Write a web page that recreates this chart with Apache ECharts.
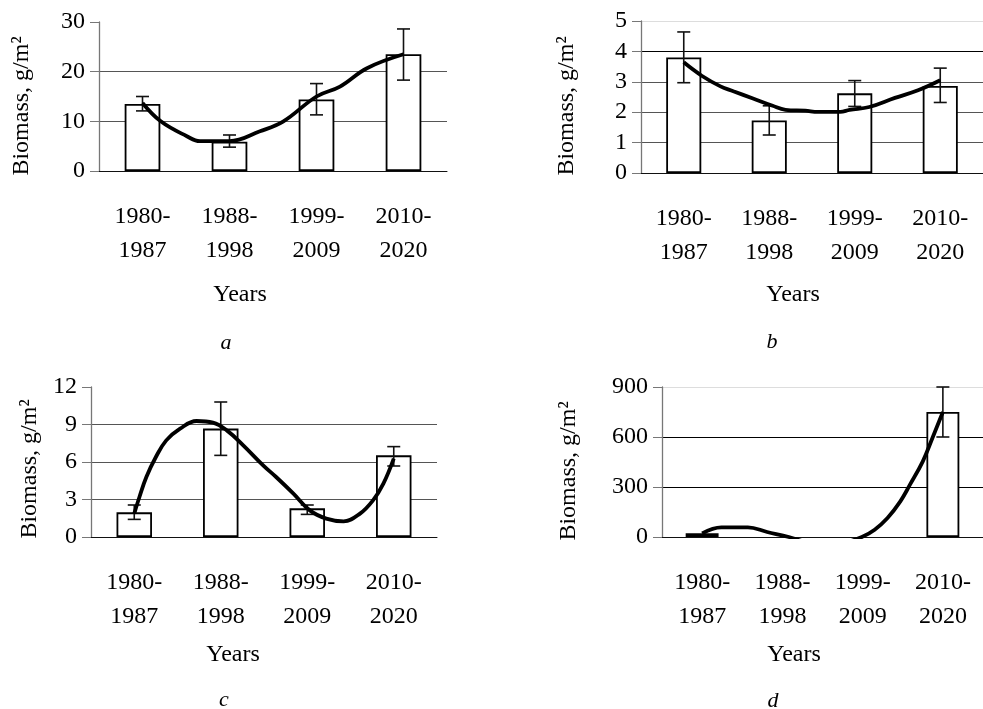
<!DOCTYPE html>
<html>
<head>
<meta charset="utf-8">
<script src="https://cdn.jsdelivr.net/npm/echarts@6/dist/echarts.min.js"></script>
<style>html,body{margin:0;padding:0;background:#fff;}#c{width:983px;height:709px;}</style>
</head>
<body>
<div id="c"></div>
<script>
const categories = ['1980-\n1987', '1988-\n1998', '1999-\n2009', '2010-\n2020'];

const barsA = [13.5, 5.9, 14.4, 23.5];
const lowA  = [12.1, 4.8, 11.3, 18.3];
const highA = [15.0, 7.25, 17.6, 28.6];
const curveAx = [0, 0.21, 0.51, 0.66, 1.0, 1.35, 1.62, 2.0, 2.27, 2.58, 3.0];
const curveAy = [13.7, 10.0, 7.0, 6.0, 6.0, 8.0, 10.0, 15.0, 17.0, 20.7, 23.5];

const barsB = [3.80, 1.73, 2.62, 2.86];
const lowB  = [2.97, 1.25, 2.19, 2.32];
const highB = [4.64, 2.21, 3.04, 3.45];
const curveBx = [0, 0.21, 0.43, 0.58, 0.81, 1.04, 1.19, 1.42, 1.57, 1.83, 1.94, 2.17, 2.47, 2.74, 3.0];
const curveBy = [3.64, 3.20, 2.85, 2.69, 2.45, 2.21, 2.08, 2.05, 2.01, 2.01, 2.08, 2.17, 2.47, 2.72, 3.05];

const barsC = [1.97, 8.67, 2.29, 6.53];
const lowC  = [1.41, 6.53, 1.81, 5.68];
const highC = [2.56, 10.8, 2.56, 7.23];
const curveCx = [0, 0.06, 0.14, 0.25, 0.37, 0.53, 0.72, 0.91, 1.07, 1.26, 1.49, 1.64, 1.84, 2.03, 2.22, 2.42, 2.61, 2.76, 2.88, 3.0];
const curveCy = [1.87, 3.2, 4.8, 6.4, 7.73, 8.67, 9.28, 9.15, 8.53, 7.33, 5.73, 4.8, 3.47, 2.13, 1.47, 1.25, 1.87, 2.93, 4.27, 6.27];

const barsD = [22, null, null, 750];
const lowD  = [null, null, null, 600];
const highD = [null, null, null, 900];
const curveDx = [0, 0.24, 0.57, 0.81, 1.08, 1.3, 1.55, 1.8, 1.99, 2.15, 2.31, 2.47, 2.59, 2.75, 2.87, 3.0];
const curveDy = [22, 58, 58, 30, 0, -30, -40, -30, 0, 44, 114, 214, 314, 454, 594, 750];

const yMax = [30, 5, 12, 900];
const yStep = [10, 1, 3, 300];
const panelLetters = ['a', 'b', 'c', 'd'];
const yAxisTitle = 'Biomass, g/m²';
const xAxisTitle = 'Years';

const FONT = '"Liberation Serif", "Times New Roman", serif';
const FS = 24;
const panels = [
  {bars: barsA, low: lowA, high: highA, cx: curveAx, cy: curveAy},
  {bars: barsB, low: lowB, high: highB, cx: curveBx, cy: curveBy},
  {bars: barsC, low: lowC, high: highC, cx: curveCx, cy: curveCy},
  {bars: barsD, low: lowD, high: highD, cx: curveDx, cy: curveDy}
];
const grids = [
  {left: 99, top: 22, width: 348, height: 149},
  {left: 641, top: 21, width: 353, height: 152},
  {left: 91, top: 387, width: 346, height: 150},
  {left: 662, top: 387, width: 329, height: 150}
];
const splitColors = [
  ['#000', '#555', '#555', 'rgba(0,0,0,0)'],
  ['#000', '#555', '#555', '#555', '#000', '#ddd'],
  ['#000', '#555', '#555', '#555', 'rgba(0,0,0,0)'],
  ['#000', '#000', '#000', '#ddd']
];
const yNamePos = [[22, 106], [567, 106], [30, 469], [569, 471]];
const xNamePos = [[240, 295], [793, 295], [233, 655], [794, 655]];
const letterPos = [[226, 343], [772, 342], [224, 700], [773, 701]];

const xAxes = [], yAxes = [], series = [], graphics = [];
panels.forEach((p, i) => {
  xAxes.push({
    type: 'category', gridIndex: i, data: categories,
    axisLine: {onZero: false, lineStyle: {color: '#111', width: 1}},
    axisTick: {length: 9, lineStyle: {color: '#666'}},
    axisLabel: {color: '#000', fontFamily: FONT, fontSize: FS, lineHeight: 34, margin: 29, interval: 0}
  });
  xAxes.push({
    type: 'value', gridIndex: i, min: -0.5, max: 3.5, show: false,
    axisLine: {onZero: false}
  });
  yAxes.push({
    type: 'value', gridIndex: i, min: 0, max: yMax[i], interval: yStep[i],
    axisLine: {show: true, onZero: false, lineStyle: {color: '#777', width: 1.3}},
    axisTick: {show: true, length: 9, lineStyle: {color: '#777'}},
    axisLabel: {color: '#000', fontFamily: FONT, fontSize: FS, margin: 14},
    splitLine: {show: true, lineStyle: {color: splitColors[i], width: 1.2}}
  });
  series.push({
    type: 'bar', xAxisIndex: 2 * i, yAxisIndex: i, data: p.bars, barWidth: '41%',
    itemStyle: {color: '#fff', borderColor: '#000', borderWidth: 1.8}, silent: true
  });
  const err = p.bars.map((v, k) => [k, p.low[k], p.high[k]]).filter(d => d[1] != null);
  series.push({
    type: 'custom', xAxisIndex: 2 * i, yAxisIndex: i, data: err, silent: true, z: 3,
    renderItem: function (params, api) {
      const x = api.value(0);
      const lo = api.coord([x, api.value(1)]);
      const hi = api.coord([x, api.value(2)]);
      const w = 6.5;
      const st = {stroke: '#111', lineWidth: 1.6};
      return {type: 'group', children: [
        {type: 'line', shape: {x1: lo[0], y1: lo[1], x2: hi[0], y2: hi[1]}, style: st},
        {type: 'line', shape: {x1: hi[0] - w, y1: hi[1], x2: hi[0] + w, y2: hi[1]}, style: st},
        {type: 'line', shape: {x1: lo[0] - w, y1: lo[1], x2: lo[0] + w, y2: lo[1]}, style: st}
      ]};
    }
  });
  series.push({
    type: 'line', xAxisIndex: 2 * i + 1, yAxisIndex: i, smooth: 0.4, symbol: 'none', z: 4,
    data: p.cx.map((x, k) => [x, p.cy[k]]), clip: true,
    lineStyle: {color: '#000', width: 3.8}, silent: true
  });
  graphics.push({
    type: 'text', x: yNamePos[i][0], y: yNamePos[i][1], rotation: Math.PI / 2,
    style: {text: yAxisTitle, fill: '#000', font: FS + 'px ' + FONT, align: 'center', verticalAlign: 'middle'}
  });
  graphics.push({
    type: 'text', x: xNamePos[i][0], y: xNamePos[i][1],
    style: {text: xAxisTitle, fill: '#000', font: FS + 'px ' + FONT, align: 'center', verticalAlign: 'middle'}
  });
  graphics.push({
    type: 'text', x: letterPos[i][0], y: letterPos[i][1],
    style: {text: panelLetters[i], fill: '#000', font: 'italic 22px ' + FONT, align: 'center', verticalAlign: 'middle'}
  });
});

const chart = echarts.init(document.getElementById('c'), null, {renderer: 'canvas'});
chart.setOption({
  animation: false,
  backgroundColor: '#fff',
  grid: grids,
  xAxis: xAxes,
  yAxis: yAxes,
  series: series,
  graphic: graphics
});
</script>
</body>
</html>
